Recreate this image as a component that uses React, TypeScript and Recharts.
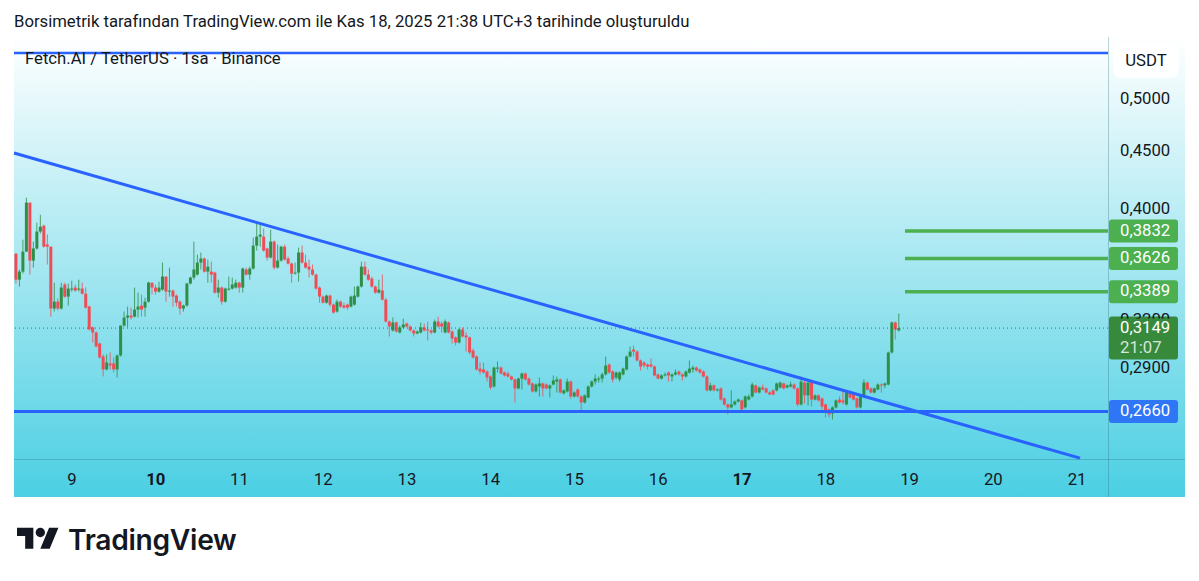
import React from 'react';
import { Bar, ComposedChart, ReferenceDot, ReferenceLine, XAxis, YAxis } from 'recharts';

const FONT = 'Roboto, sans-serif';
const SIZE = 16.7;
const INK = '#131722';
const UP = '#2f8f46';
const DOWN = '#ef4d56';
const BLUE = '#2962ff';
const GREEN = '#4caf50';

// hourly candles, the first one opens on the 8th at 08:00
const firstHour = 200;
const opens = [
  .3661, .3473, .3530, .3676, .4059, .3610, .3699, .3828, .3874, .3729,
  .3713, .3276, .3322, .3276, .3439, .3356, .3404, .3418, .3404, .3411,
  .3376, .3289, .3153, .3121, .3052, .2973, .2896, .2931, .2931, .2896,
  .2979, .3165, .3217, .3230, .3223, .3269, .3296, .3282, .3322, .3452,
  .3418, .3390, .3404, .3495, .3390, .3397, .3363, .3322, .3276, .3296,
  .3446, .3488, .3509, .3595, .3625, .3530, .3530, .3523, .3383, .3418,
  .3322, .3404, .3411, .3418, .3452, .3418, .3545, .3509, .3552, .3721,
  .3789, .3789, .3699, .3632, .3751, .3559, .3610, .3713, .3625, .3588,
  .3516, .3523, .3669, .3595, .3566, .3545, .3509, .3418, .3356, .3315,
  .3363, .3302, .3256, .3322, .3296, .3302, .3289, .3302, .3356, .3425,
  .3566, .3509, .3481, .3425, .3383, .3397, .3336, .3191, .3134, .3185,
  .3121, .3153, .3178, .3159, .3134, .3115, .3121, .3153, .3140, .3134,
  .3121, .3191, .3178, .3121, .3185, .3127, .3090, .3058, .3140, .3102,
  .3090, .3009, .2973, .2901, .2896, .2884, .2855, .2798, .2901, .2907,
  .2878, .2872, .2855, .2838, .2787, .2843, .2872, .2843, .2815, .2770,
  .2798, .2815, .2809, .2787, .2809, .2826, .2838, .2759, .2770, .2826,
  .2742, .2781, .2742, .2709, .2736, .2798, .2826, .2838, .2843, .2867,
  .2925, .2884, .2849, .2838, .2867, .2896, .2973, .3015, .3003, .2949,
  .2937, .2925, .2925, .2913, .2867, .2843, .2861, .2878, .2855, .2867,
  .2884, .2867, .2855, .2878, .2896, .2907, .2896, .2884, .2855, .2776,
  .2804, .2776, .2787, .2731, .2698, .2682, .2698, .2714, .2720, .2682,
  .2725, .2742, .2804, .2764, .2792, .2787, .2764, .2776, .2776, .2792,
  .2815, .2792, .2798, .2809, .2787, .2698, .2820, .2748, .2826, .2725,
  .2748, .2731, .2698, .2671, .2649, .2682, .2725, .2720, .2698, .2759,
  .2753, .2731, .2682, .2742, .2820, .2787, .2764, .2781, .2809, .2804,
  .2809, .2997, .3185, .3134,
];
const highs = [
  .3661, .3545, .3766, .4100, .4059, .3751, .3898, .3961, .3882, .3805,
  .3713, .3452, .3343, .3452, .3452, .3446, .3466, .3439, .3473, .3452,
  .3418, .3296, .3159, .3127, .3058, .2985, .2985, .2997, .2967, .2985,
  .3165, .3256, .3289, .3282, .3418, .3383, .3370, .3349, .3459, .3452,
  .3439, .3459, .3595, .3495, .3559, .3404, .3370, .3329, .3302, .3452,
  .3495, .3751, .3654, .3669, .3632, .3617, .3602, .3530, .3473, .3425,
  .3418, .3495, .3488, .3473, .3459, .3559, .3559, .3566, .3782, .3890,
  .3882, .3851, .3706, .3843, .3759, .3729, .3721, .3729, .3639, .3595,
  .3595, .3706, .3721, .3654, .3617, .3581, .3516, .3425, .3363, .3370,
  .3370, .3309, .3336, .3329, .3315, .3309, .3363, .3425, .3432, .3602,
  .3602, .3545, .3495, .3432, .3473, .3509, .3349, .3197, .3217, .3191,
  .3165, .3210, .3185, .3165, .3140, .3134, .3185, .3178, .3191, .3140,
  .3204, .3223, .3191, .3204, .3191, .3134, .3096, .3146, .3153, .3121,
  .3096, .3021, .2979, .2937, .2937, .2890, .2861, .2913, .2943, .2913,
  .2884, .2884, .2861, .2843, .2849, .2878, .2878, .2849, .2820, .2815,
  .2849, .2820, .2815, .2809, .2861, .2855, .2843, .2781, .2843, .2832,
  .2770, .2787, .2748, .2753, .2804, .2832, .2867, .2855, .2878, .2973,
  .2931, .2890, .2884, .2884, .2907, .2979, .3034, .3040, .3009, .2955,
  .2943, .2931, .2961, .2919, .2872, .2867, .2878, .2884, .2872, .2896,
  .2890, .2872, .2890, .2949, .2919, .2913, .2901, .2890, .2861, .2820,
  .2809, .2787, .2792, .2736, .2703, .2776, .2720, .2731, .2725, .2748,
  .2753, .2820, .2809, .2798, .2809, .2792, .2770, .2781, .2820, .2826,
  .2820, .2809, .2826, .2815, .2792, .2855, .2838, .2826, .2832, .2753,
  .2753, .2736, .2703, .2676, .2687, .2725, .2742, .2770, .2770, .2764,
  .2759, .2736, .2748, .2838, .2826, .2792, .2792, .2815, .2815, .2820,
  .3003, .3191, .3191, .3243,
];
const lows = [
  .3446, .3425, .3516, .3676, .3509, .3559, .3691, .3812, .3706, .3581,
  .3223, .3256, .3263, .3269, .3349, .3296, .3390, .3390, .3390, .3370,
  .3276, .3134, .3058, .3028, .2961, .2855, .2890, .2896, .2878, .2849,
  .2973, .3159, .3153, .3204, .3217, .3217, .3223, .3223, .3315, .3370,
  .3370, .3383, .3397, .3322, .3356, .3289, .3289, .3236, .3256, .3289,
  .3439, .3473, .3502, .3545, .3523, .3452, .3452, .3376, .3349, .3302,
  .3315, .3397, .3404, .3411, .3383, .3383, .3502, .3473, .3545, .3684,
  .3713, .3676, .3610, .3625, .3545, .3552, .3602, .3610, .3581, .3452,
  .3509, .3459, .3588, .3552, .3488, .3502, .3404, .3315, .3309, .3309,
  .3289, .3243, .3249, .3282, .3276, .3269, .3282, .3296, .3349, .3418,
  .3502, .3466, .3418, .3376, .3376, .3329, .3185, .3096, .3127, .3121,
  .3115, .3146, .3153, .3127, .3096, .3109, .3115, .3127, .3071, .3109,
  .3115, .3153, .3121, .3115, .3115, .3052, .3040, .3052, .3090, .3003,
  .2985, .2961, .2890, .2867, .2872, .2826, .2781, .2792, .2878, .2867,
  .2855, .2849, .2832, .2709, .2781, .2781, .2832, .2804, .2764, .2764,
  .2742, .2742, .2781, .2736, .2804, .2764, .2759, .2753, .2764, .2731,
  .2736, .2736, .2655, .2703, .2731, .2792, .2809, .2820, .2820, .2861,
  .2872, .2820, .2838, .2826, .2861, .2890, .2967, .2973, .2943, .2890,
  .2907, .2896, .2907, .2855, .2838, .2838, .2855, .2826, .2826, .2861,
  .2861, .2832, .2849, .2872, .2878, .2884, .2872, .2849, .2770, .2770,
  .2770, .2770, .2720, .2692, .2644, .2676, .2692, .2709, .2660, .2676,
  .2720, .2736, .2759, .2759, .2776, .2759, .2748, .2748, .2770, .2787,
  .2781, .2787, .2792, .2781, .2687, .2692, .2703, .2692, .2687, .2720,
  .2714, .2671, .2628, .2628, .2617, .2676, .2703, .2698, .2692, .2731,
  .2720, .2676, .2676, .2736, .2776, .2759, .2759, .2776, .2764, .2787,
  .2804, .2991, .3077, .3127,
];
const closes = [
  .3473, .3530, .3676, .4059, .3610, .3699, .3828, .3866, .3713, .3713,
  .3276, .3322, .3276, .3418, .3356, .3411, .3411, .3397, .3411, .3376,
  .3282, .3140, .3121, .3034, .2967, .2896, .2937, .2919, .2896, .2979,
  .3165, .3217, .3230, .3217, .3269, .3289, .3269, .3322, .3452, .3418,
  .3390, .3418, .3495, .3390, .3397, .3356, .3315, .3276, .3296, .3446,
  .3488, .3545, .3595, .3625, .3530, .3566, .3509, .3383, .3418, .3322,
  .3411, .3411, .3439, .3452, .3418, .3552, .3509, .3552, .3721, .3789,
  .3805, .3684, .3632, .3751, .3559, .3610, .3713, .3617, .3588, .3516,
  .3523, .3669, .3595, .3559, .3545, .3509, .3411, .3356, .3315, .3363,
  .3302, .3249, .3322, .3289, .3282, .3282, .3356, .3363, .3425, .3566,
  .3509, .3473, .3425, .3383, .3404, .3336, .3191, .3159, .3185, .3127,
  .3153, .3172, .3159, .3134, .3115, .3127, .3153, .3134, .3134, .3121,
  .3191, .3159, .3159, .3191, .3121, .3083, .3058, .3140, .3096, .3090,
  .2997, .2967, .2896, .2884, .2878, .2849, .2792, .2907, .2907, .2872,
  .2861, .2855, .2838, .2787, .2843, .2872, .2838, .2809, .2770, .2809,
  .2815, .2787, .2787, .2804, .2832, .2838, .2764, .2776, .2826, .2742,
  .2764, .2742, .2709, .2748, .2798, .2826, .2843, .2843, .2867, .2919,
  .2878, .2838, .2878, .2878, .2901, .2973, .3003, .3003, .2949, .2913,
  .2919, .2913, .2913, .2861, .2843, .2861, .2867, .2861, .2867, .2878,
  .2867, .2855, .2884, .2901, .2907, .2890, .2878, .2855, .2776, .2804,
  .2776, .2781, .2725, .2698, .2682, .2698, .2714, .2725, .2671, .2742,
  .2742, .2809, .2764, .2792, .2781, .2764, .2753, .2753, .2815, .2820,
  .2787, .2804, .2809, .2787, .2698, .2826, .2748, .2820, .2725, .2748,
  .2720, .2687, .2655, .2644, .2682, .2720, .2709, .2709, .2764, .2736,
  .2725, .2682, .2742, .2820, .2781, .2764, .2787, .2809, .2804, .2815,
  .2997, .3185, .3140, .3149,
];

const dayTicks = [216, 240, 264, 288, 312, 336, 360, 384, 408, 432, 456, 480, 504];
const boldDays = [10, 17];
const priceTicks = [0.5, 0.45, 0.4, 0.32, 0.29];
const coveredTick = 0.32; // sits under the last price badge, only its top shows
const priceDomain = [0.2416, 0.5664];
const hourDomain = [199.38, 512.88];

const lastPrice = 0.3149;
const countdown = '21:07';
const floorLevel = 0.266;
const ceilingLevel = 0.5495;
const targetLevels = [0.3832, 0.3626, 0.3389];
const targetStart = 454.7;
const trendFrom = { x: 199.38, y: 0.4488 };
const trendTo = { x: 504.86, y: 0.242 };

const candles = opens.map((open, i) => ({
  hour: firstHour + i,
  open,
  high: highs[i],
  low: lows[i],
  close: closes[i],
  range: [lows[i], highs[i]],
}));

const fmt = (v: number) => v.toFixed(4).replace('.', ',');

// the bar spans low..high, the body is placed inside it on the same log scale
function Candle(props: any) {
  const { x, y, width, height, payload } = props;
  const { open, high, low, close } = payload;
  const span = Math.log(high / low) || 1;
  const at = (p: number) => y + (height * Math.log(high / p)) / span;
  const top = at(Math.max(open, close));
  const bottom = at(Math.min(open, close));
  const color = close >= open ? UP : DOWN;
  const mid = x + width / 2;
  return (
    <g>
      <line x1={mid} x2={mid} y1={y} y2={y + height} stroke={color} strokeWidth={1} strokeOpacity={0.8} />
      <rect x={x} y={top} width={width} height={Math.max(bottom - top, 1)} fill={color} />
    </g>
  );
}

function DayTick({ x, y, payload }: any) {
  const day = payload.value / 24;
  return (
    <text x={x} y={y} dy={18} textAnchor="middle" fontFamily={FONT} fontSize={SIZE} fill={INK} fontWeight={boldDays.includes(day) ? 700 : 400}>
      {day}
    </text>
  );
}

function PriceTick({ x, y, payload }: any) {
  const covered = payload.value === coveredTick;
  return (
    <g>
      {covered && (
        <clipPath id="covered-tick">
          <rect x={x} y={y - 16} width={70} height={14.3} />
        </clipPath>
      )}
      <text x={x + 4} y={y} dy={4.5} textAnchor="start" fontFamily={FONT} fontSize={SIZE} fill={INK} clipPath={covered ? 'url(#covered-tick)' : undefined}>
        {fmt(payload.value)}
      </text>
    </g>
  );
}

function Badge({ cx, cy, tone, caption }: any) {
  return (
    <g>
      <rect x={cx + 1} y={cy - 11.5} width={69} height={23} rx={3} fill={tone} />
      <text x={cx + 12} y={cy + 4.5} fontFamily={FONT} fontSize={SIZE} fill="#fff">
        {caption}
      </text>
    </g>
  );
}

function LastBadge({ cx, cy }: any) {
  return (
    <g>
      <rect x={cx + 1} y={cy - 11.5} width={69} height={43} rx={3} fill="#378a3c" />
      <text x={cx + 12} y={cy + 4.5} fontFamily={FONT} fontSize={SIZE} fill="#fff">
        {fmt(lastPrice)}
      </text>
      <text x={cx + 12} y={cy + 24.5} fontFamily={FONT} fontSize={SIZE} fill="#fff" fillOpacity={0.8}>
        {countdown}
      </text>
    </g>
  );
}

export default function App() {
  return (
    <div style={{ position: 'absolute', left: 0, top: 0, width: 1199, height: 581, background: '#fff', fontFamily: FONT, color: INK, overflow: 'hidden' }}>
      <div style={{ position: 'absolute', left: 14, top: 12, fontSize: SIZE, lineHeight: '19px', whiteSpace: 'nowrap' }}>
        Borsimetrik tarafından TradingView.com ile Kas 18, 2025 21:38 UTC+3 tarihinde oluşturuldu
      </div>
      <div style={{ position: 'absolute', left: 14, top: 37, width: 1171, height: 460, background: 'linear-gradient(180deg, #ffffff 0%, #4bcfe3 100%)' }} />
      <div style={{ position: 'absolute', left: 1108, top: 37, width: 1, height: 460, background: 'rgba(40,100,120,0.3)' }} />
      <div style={{ position: 'absolute', left: 14, top: 459, width: 1171, height: 1, background: 'rgba(40,100,120,0.3)' }} />
      <div style={{ position: 'absolute', left: 0, top: 0 }}>
        <ComposedChart width={1199} height={581} data={candles} margin={{ top: 38, right: 0, bottom: 84, left: 14 }}>
          <XAxis
            dataKey="hour"
            type="number"
            domain={hourDomain}
            ticks={dayTicks}
            allowDataOverflow
            axisLine={false}
            tickLine={false}
            height={38}
            interval={0}
            tick={<DayTick />}
          />
          <YAxis
            orientation="right"
            scale="log"
            type="number"
            domain={priceDomain}
            ticks={priceTicks}
            allowDataOverflow
            axisLine={false}
            tickLine={false}
            width={91}
            interval={0}
            tick={<PriceTick />}
          />
          <ReferenceLine y={lastPrice} stroke="#2e7d32" strokeDasharray="1 3" />
          <Bar dataKey="range" barSize={3} shape={<Candle />} isAnimationActive={false} />
          <ReferenceLine y={ceilingLevel} stroke={BLUE} strokeWidth={2.5} />
          <ReferenceLine y={floorLevel} stroke={BLUE} strokeWidth={3} />
          <ReferenceLine segment={[trendFrom, trendTo]} stroke={BLUE} strokeWidth={3} />
          {targetLevels.map((level) => (
            <ReferenceLine key={level} segment={[{ x: targetStart, y: level }, { x: hourDomain[1], y: level }]} stroke={GREEN} strokeWidth={3.5} />
          ))}
          {targetLevels.map((level) => (
            <ReferenceDot key={level} x={hourDomain[1]} y={level} ifOverflow="visible" shape={<Badge tone={GREEN} caption={fmt(level)} />} />
          ))}
          <ReferenceDot x={hourDomain[1]} y={floorLevel} ifOverflow="visible" shape={<Badge tone="#2f76f6" caption={fmt(floorLevel)} />} />
          <ReferenceDot x={hourDomain[1]} y={lastPrice} ifOverflow="visible" shape={<LastBadge />} />
        </ComposedChart>
      </div>
      <div style={{ position: 'absolute', left: 25, top: 49, fontSize: SIZE, lineHeight: '19px', whiteSpace: 'nowrap' }}>
        Fetch.AI / TetherUS · 1sa · Binance
      </div>
      <div style={{ position: 'absolute', left: 1113, top: 43, width: 66, height: 35, borderRadius: 8, background: 'rgba(255,255,255,0.9)', fontSize: SIZE, lineHeight: '35px', textAlign: 'center' }}>
        USDT
      </div>
      <svg style={{ position: 'absolute', left: 16.5, top: 523 }} width={42} height={33} viewBox="0 0 36 28">
        <path d="M14 22H7V11H0V4h14v18zM28 22h-8l7.5-18h8L28 22z" fill="#131722" />
        <circle cx={20} cy={8} r={4} fill="#131722" />
      </svg>
      <div style={{ position: 'absolute', left: 68, top: 522, fontFamily: 'Inter, sans-serif', fontWeight: 600, fontSize: 28.2, lineHeight: '36px', letterSpacing: '-0.3px', whiteSpace: 'nowrap', color: '#131722' }}>
        TradingView
      </div>
    </div>
  );
}
